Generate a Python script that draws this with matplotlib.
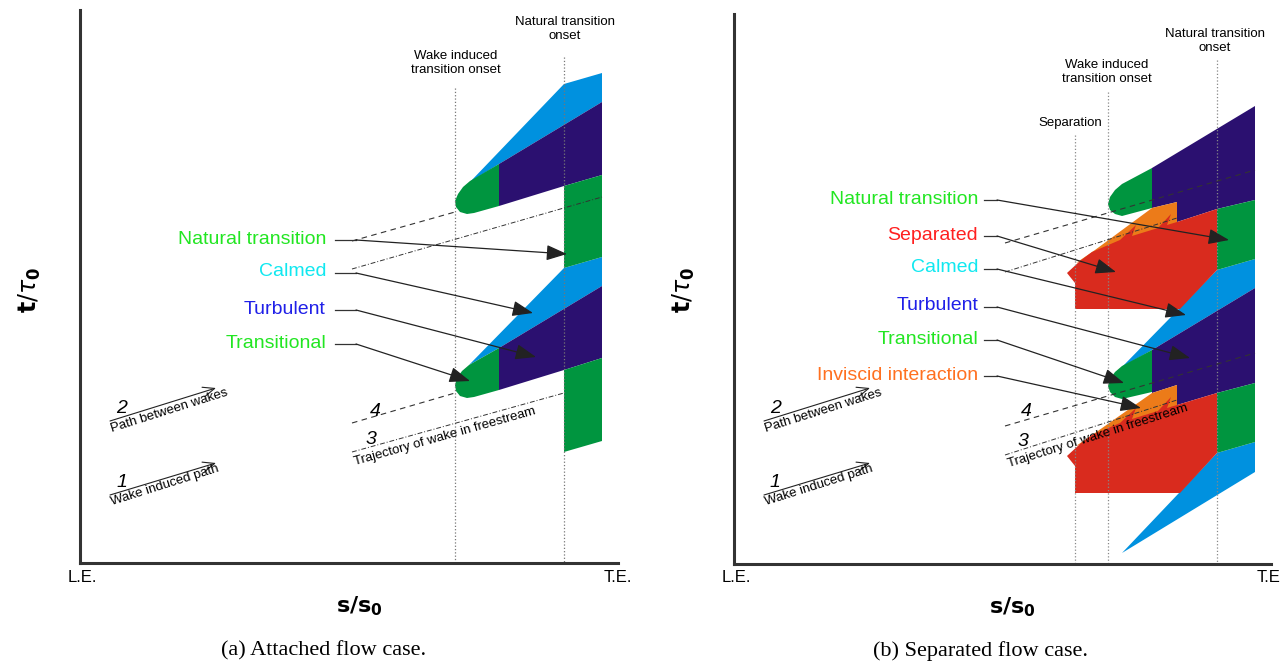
import matplotlib.pyplot as plt
from matplotlib.patches import Polygon

plt.rcParams['font.family'] = ['Liberation Sans', 'DejaVu Sans']
plt.rcParams['mathtext.fontset'] = 'dejavusans'

W, H = 1287, 663

# colours of the regions
c_calmed = '#0091df'
c_turb = '#2b1070'
c_trans = '#00953f'
c_sep = '#d92b1e'
c_inv = '#ec7b19'

# ---------------- panel (a): attached flow (reference grid units) ----------
a_box = (80, 618, 563, 10)           # x left, x right, y bottom, y top
a_calmed = [
    [(470, 182), (564, 84), (602, 73), (602, 102), (499, 164)],
    [(469, 365), (564, 268), (602, 257), (602, 286), (499, 348)],
]
a_turb = [
    [(499, 164), (602, 102), (602, 175), (564, 186), (499, 206)],
    [(499, 348), (602, 286), (602, 358), (564, 370), (499, 390)],
]
a_trans = [
    [(499, 164), (470, 181), (463, 187), (458, 194), (455, 201), (456, 207),
     (460, 212), (467, 214), (474, 213), (499, 206)],
    [(499, 348), (469, 365), (462, 371), (457, 378), (455, 385), (456, 391),
     (460, 396), (467, 398), (474, 397), (499, 390)],
]
a_natural = [
    [(564, 186), (602, 175), (602, 257), (564, 268)],
    [(564, 370), (602, 358), (602, 441), (564, 452)],
]
a_onsets = [455, 564]
a_onset_top = [88, 57]
a_onset_text = ['Wake induced\ntransition onset', 'Natural transition\nonset']
a_onset_text_y = [63, 29]
a_path4 = [[(352, 241), (455, 212)], [(352, 423), (455, 393)]]
a_path3 = [[(352, 269), (602, 197)], [(352, 452), (564, 393)]]
a_labels = ['Natural transition', 'Calmed', 'Turbulent', 'Transitional']
a_label_col = ['#22e622', '#10e8f0', '#2020e8', '#22e622']
a_label_y = [239, 272, 309, 343]
a_tips = [(567, 254), (533, 313), (536, 357), (470, 381)]

# ---------------- panel (b): separated flow -------------------------------
b_box = (734, 1271, 564, 14)
b_calmed = [
    [(1122, 367), (1217, 270), (1255, 259), (1255, 288), (1152, 350)],
    [(1122, 553), (1217, 453), (1255, 442), (1255, 472)],
]
b_turb = [
    [(1152, 168), (1255, 106), (1255, 200), (1217, 209), (1177, 222),
     (1177, 202), (1152, 208)],
    [(1152, 350), (1255, 288), (1255, 383), (1217, 393), (1177, 405),
     (1177, 385), (1152, 393)],
]
b_trans = [
    [(1152, 168), (1122, 184), (1115, 190), (1110, 197), (1108, 204),
     (1110, 210), (1115, 214), (1122, 216), (1152, 208)],
    [(1152, 350), (1122, 366), (1115, 372), (1110, 379), (1108, 386),
     (1110, 392), (1115, 397), (1122, 399), (1152, 392)],
]
b_natural = [
    [(1217, 209), (1255, 200), (1255, 259), (1217, 270)],
    [(1217, 393), (1255, 383), (1255, 442), (1217, 453)],
]
b_inviscid = [
    [(1076, 263), (1095, 250), (1152, 208), (1177, 202), (1177, 224),
     (1100, 255)],
    [(1076, 446), (1095, 433), (1152, 393), (1177, 385), (1177, 407),
     (1100, 438)],
]
b_separated = [
    [(1067, 273), (1080, 261), (1092, 252), (1120, 240), (1136, 225),
     (1132, 236), (1158, 228), (1171, 214), (1167, 225), (1177, 222),
     (1217, 209), (1217, 270), (1180, 309), (1075, 309), (1075, 283)],
    [(1067, 456), (1080, 444), (1092, 435), (1120, 423), (1136, 408),
     (1132, 419), (1158, 411), (1171, 397), (1167, 408), (1177, 405),
     (1217, 393), (1217, 453), (1180, 493), (1075, 493), (1075, 466)],
]
b_onsets = [1075, 1108, 1217]
b_onset_top = [135, 92, 60]
b_onset_text = ['Separation', 'Wake induced\ntransition onset',
                'Natural transition\nonset']
b_onset_text_x = [1070, 1107, 1215]
b_onset_text_y = [123, 72, 41]
b_path4 = [[(1005, 243), (1255, 170)], [(1005, 426), (1255, 353)]]
b_path3 = [[(1005, 272), (1177, 218)], [(1005, 455), (1177, 400)]]
b_labels = ['Natural transition', 'Separated', 'Calmed', 'Turbulent',
            'Transitional', 'Inviscid interaction']
b_label_col = ['#22e622', '#ff2020', '#10e8f0', '#2020e8', '#22e622',
               '#ff7020']
b_label_y = [199, 235, 268, 306, 339, 375]
b_tips = [(1229, 240), (1116, 272), (1186, 315), (1190, 358),
          (1124, 383), (1141, 408)]

# paths 1 and 2 (panel a positions; panel b is shifted right)
path_num = ['2', '1']
path_text = ['Path between wakes', 'Wake induced path']
path_start = [(110, 421), (110, 495)]
path_end = [(216, 388), (216, 463)]

fig = plt.figure(figsize=(W / 100, H / 100), dpi=100)


def make_axes(box):
    x0, x1, yb, yt = box
    ax = fig.add_axes([x0 / W, (H - yb) / H, (x1 - x0) / W, (yb - yt) / H])
    ax.set_xlim(x0, x1)
    ax.set_ylim(yb, yt)
    ax.set_xticks([])
    ax.set_yticks([])
    for side in ['top', 'right']:
        ax.spines[side].set_visible(False)
    for side in ['left', 'bottom']:
        ax.spines[side].set_linewidth(2.2)
        ax.spines[side].set_color('#333333')
    return ax


def fill(ax, polys, colour):
    for p in polys:
        ax.add_patch(Polygon(p, closed=True, fc=colour, ec='none', zorder=1))


def leaders(ax, labels, cols, ys, tips, x_end, x_start, x_corner):
    for lab, col, y, tip in zip(labels, cols, ys, tips):
        ax.text(x_end, y, lab, color=col, fontsize=14, ha='right',
                va='center')
        ax.plot([x_start, x_corner], [y + 1, y + 1], color='#333333',
                lw=0.9, zorder=4)
        ax.annotate('', xy=tip, xytext=(x_corner, y + 1),
                    arrowprops=dict(arrowstyle='-|>,head_length=0.85,head_width=0.32',
                                    mutation_scale=15, color='#222222',
                                    lw=0.9, shrinkA=0, shrinkB=0),
                    zorder=4)


def paths(ax, p4, p3):
    for (a, b) in p4:
        ax.plot([a[0], b[0]], [a[1], b[1]], color='#333333', lw=0.8,
                dashes=(5, 4), zorder=3)
    for (a, b) in p3:
        ax.plot([a[0], b[0]], [a[1], b[1]], color='#333333', lw=0.7,
                dashes=(5, 2, 1, 2), zorder=3)


def common(ax, dx, box, te_text):
    x0, x1, yb, yt = box
    for p, q, num, txt in zip(path_start, path_end, path_num, path_text):
        ax.annotate('', xy=(q[0] + dx, q[1]), xytext=(p[0] + dx, p[1]),
                    arrowprops=dict(arrowstyle='->,head_length=0.6,head_width=0.25',
                                    mutation_scale=14, color='#222222',
                                    lw=0.8, shrinkA=0, shrinkB=0))
        ax.text(p[0] + dx + 6, p[1] - 4, num, fontsize=14, style='italic',
                ha='left', va='bottom')
        ax.text(p[0] + dx - 1, p[1] + 2, txt, fontsize=9.5, ha='left',
                va='top', rotation=17.5, rotation_mode='anchor')
    ax.text(x0 - 12, yb + 14, 'L.E.', fontsize=12, ha='left', va='center')
    ax.text(x1 - 14, yb + 14, te_text, fontsize=12, ha='left', va='center')
    ax.text((x0 + x1) / 2 + 10, yb + 43, r'$\mathbf{s/s_0}$', fontsize=16,
            ha='center', va='center')
    ax.text(x0 - 50, 290, r'$\mathbf{t}/\tau_\mathbf{0}$', fontsize=17,
            ha='center', va='center', rotation=90)


# ---------------- draw panel (a)
ax = make_axes(a_box)
fill(ax, a_calmed, c_calmed)
fill(ax, a_turb, c_turb)
fill(ax, a_trans, c_trans)
fill(ax, a_natural, c_trans)
for x, top, txt, ty in zip(a_onsets, a_onset_top, a_onset_text, a_onset_text_y):
    ax.plot([x, x], [top, a_box[2]], color='#777777', lw=0.9, ls=':',
            zorder=2)
    ax.text(x + 1, ty, txt, fontsize=9.5, ha='center', va='center',
            linespacing=1.15)
paths(ax, a_path4, a_path3)
leaders(ax, a_labels, a_label_col, a_label_y, a_tips, 326, 335, 356)
ax.text(370, 411, '4', fontsize=14, style='italic', ha='left', va='center')
ax.text(366, 440, '3', fontsize=14, style='italic', ha='left', va='center')
ax.text(353, 456, 'Trajectory of wake in freestream', fontsize=9.5,
        ha='left', va='top', rotation=15.8, rotation_mode='anchor')
common(ax, 0, a_box, 'T.E.')
ax.text(324, 651, '(a) Attached flow case.', fontsize=16, ha='center',
        va='center', family=['Liberation Serif', 'DejaVu Serif'])

# ---------------- draw panel (b)
bx = make_axes(b_box)
fill(bx, b_calmed, c_calmed)
fill(bx, b_turb, c_turb)
fill(bx, b_trans, c_trans)
fill(bx, b_natural, c_trans)
fill(bx, b_inviscid, c_inv)
fill(bx, b_separated, c_sep)
for x, top, txt, tx, ty in zip(b_onsets, b_onset_top, b_onset_text,
                               b_onset_text_x, b_onset_text_y):
    bx.plot([x, x], [top, b_box[2]], color='#888888', lw=0.9, ls=':',
            zorder=2)
    bx.text(tx, ty, txt, fontsize=9.5, ha='center', va='center',
            linespacing=1.15)
paths(bx, b_path4, b_path3)
leaders(bx, b_labels, b_label_col, b_label_y, b_tips, 978, 984, 997)
bx.text(1021, 412, '4', fontsize=14, style='italic', ha='left', va='center')
bx.text(1018, 441, '3', fontsize=14, style='italic', ha='left', va='center')
bx.text(1006, 459, 'Trajectory of wake in freestream', fontsize=9.5,
        ha='left', va='top', rotation=17.5, rotation_mode='anchor')
common(bx, 654, b_box, 'T.E')
bx.text(980, 651, '(b) Separated flow case.', fontsize=16, ha='center',
        va='center', family=['Liberation Serif', 'DejaVu Serif'])

fig.savefig('out.png', dpi=100)
